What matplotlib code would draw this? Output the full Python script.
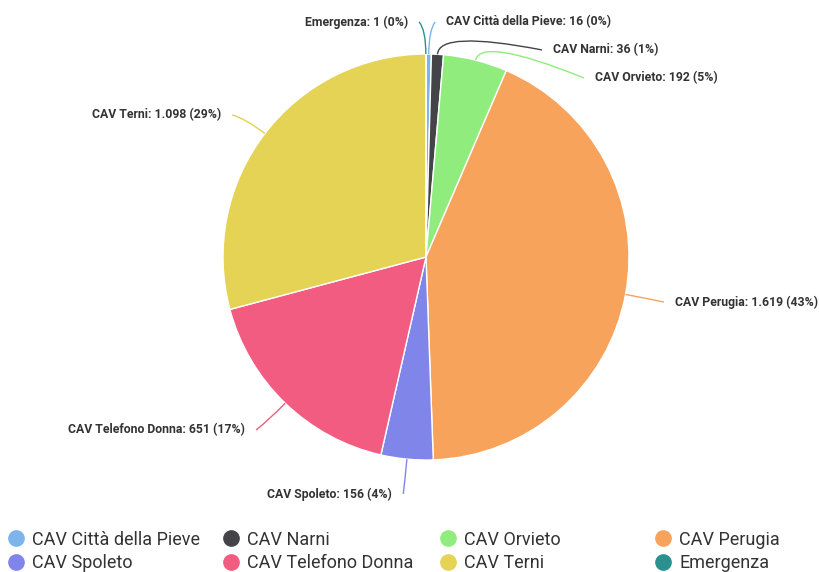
import numpy as np
import matplotlib
matplotlib.use("Agg")
import matplotlib.pyplot as plt
from matplotlib.path import Path
from matplotlib.patches import PathPatch
from matplotlib.lines import Line2D

plt.rcParams['font.family'] = ['Roboto', 'DejaVu Sans']

names = ["CAV Città della Pieve", "CAV Narni", "CAV Orvieto", "CAV Perugia",
         "CAV Spoleto", "CAV Telefono Donna", "CAV Terni", "Emergenza"]
values = [16, 36, 192, 1619, 156, 651, 1098, 1]
colors = ["#7cb5ec", "#434348", "#90ed7d", "#f7a35c",
          "#8085e9", "#f15c80", "#e4d354", "#2b908f"]

# label anchor (data coords, pie radius = 1) and alignment
label_pos = [(0.10, 1.158), (0.626, 1.020), (0.833, 0.882), (1.227, -0.222),
             (-0.167, -1.167), (-0.892, -0.852), (-1.010, 0.700), (-0.089, 1.158)]
label_ha = ["left", "left", "left", "left", "right", "right", "right", "right"]

W, H = 819, 572
fig = plt.figure(figsize=(W / 100, H / 100), dpi=100)
cx, cy, r = 426, 257, 203
ax = fig.add_axes([(cx - r) / W, (H - cy - r) / H, 2 * r / W, 2 * r / H])

wedges, _ = ax.pie(values, colors=colors, startangle=90, counterclock=False,
                   wedgeprops=dict(edgecolor="white", linewidth=1))
ax.set_xlim(-1, 1)
ax.set_ylim(-1, 1)
ax.set_aspect("equal")
ax.axis("off")

total = sum(values)
for w, name, v, (tx, ty), ha in zip(wedges, names, values, label_pos, label_ha):
    pct = round(v / total * 100)
    txt = f"{name}: {v:,} ({pct}%)".replace(",", ".")
    ax.text(tx, ty, txt, ha=ha, va="center", fontsize=8.8, fontweight="bold",
            color="#333333", clip_on=False)
    ang = np.deg2rad((w.theta1 + w.theta2) / 2)
    p0 = (np.cos(ang), np.sin(ang))
    p1 = (1.12 * np.cos(ang), 1.12 * np.sin(ang))
    gap = 0.055 if ha == "left" else -0.055
    p2 = (tx - gap, ty)
    path = Path([p0, p1, p2], [Path.MOVETO, Path.CURVE3, Path.CURVE3])
    ax.add_patch(PathPatch(path, fill=False, edgecolor=w.get_facecolor(),
                           linewidth=1, clip_on=False))

# legend: 4 columns, 2 rows
col_x = [5, 220, 437, 652]
for c in range(4):
    idx = [c, c + 4]
    handles = [Line2D([], [], marker="o", linestyle="", markersize=11,
                      markerfacecolor=colors[i], markeredgecolor=colors[i]) for i in idx]
    fig.legend(handles, [names[i] for i in idx], loc="lower left",
               bbox_to_anchor=(col_x[c] / W, 0.0), frameon=False,
               fontsize=13, handletextpad=0.3, labelspacing=0.3,
               borderpad=0, borderaxespad=0, handlelength=1.2,
               labelcolor="#333333")

fig.savefig("out.png", dpi=100)
